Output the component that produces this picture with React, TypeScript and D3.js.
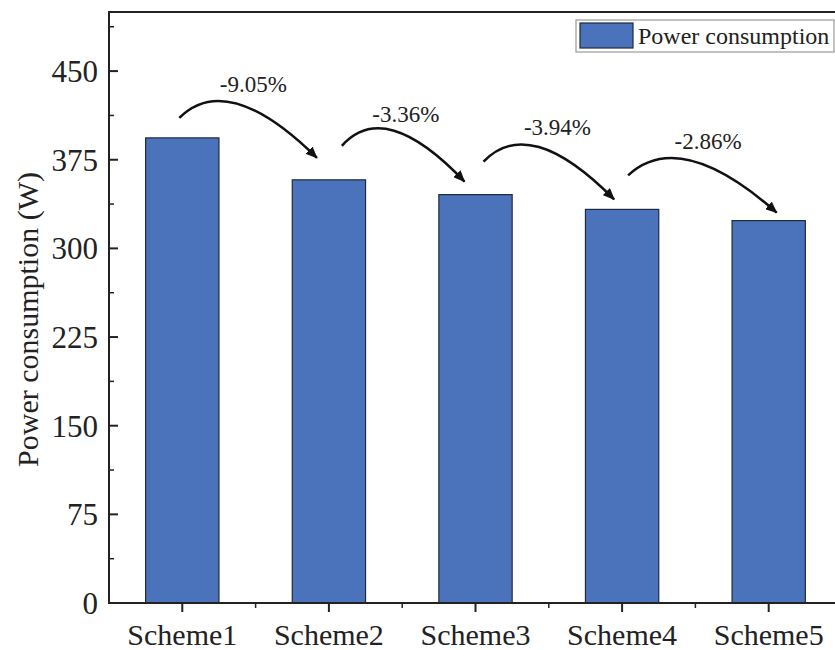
import React, { useEffect, useRef } from 'react';
import * as d3 from 'd3';

const schemes = ['Scheme1', 'Scheme2', 'Scheme3', 'Scheme4', 'Scheme5'];
const power = [393.5, 358, 345.5, 333, 323.5];
const changeLabels = ['-9.05%', '-3.36%', '-3.94%', '-2.86%'];
const yTicks = [0, 75, 150, 225, 300, 375, 450];
const seriesName = 'Power consumption';
// ——————————————————————————————

// hand placed arrow offsets (px) relative to bar tops / centers
const arrowLayout = [
  { sx: -3, sy: -20, ex: -12, ey: -22, lx: 74, ly: -26 },
  { sx: 13, sy: -34, ex: -11, ey: -13, lx: 64, ly: -24 },
  { sx: 8, sy: -33, ex: -8, ey: -10, lx: 74, ly: -27 },
  { sx: 6, sy: -34, ex: 8, ey: -8, lx: 80, ly: -26 },
];

const W = 835;
const H = 650;
const margin = { top: 12, left: 109, bottom: 47 };
const plotRight = 842;

const App = () => {
  const ref = useRef<SVGSVGElement>(null);

  useEffect(() => {
    const svg = d3.select(ref.current);
    svg.selectAll('*').remove();

    const font = '"Liberation Serif", "Times New Roman", serif';
    const x = d3.scaleBand()
      .domain(schemes)
      .range([margin.left, plotRight])
      .paddingInner(0.5)
      .paddingOuter(0.25);
    const y = d3.scaleLinear()
      .domain([0, 500])
      .range([H - margin.bottom, margin.top]);
    const y0 = y(0);
    const step = x.step();

    svg.append('rect').attr('width', W).attr('height', H).attr('fill', '#fff');

    // bars
    svg.append('g')
      .selectAll('rect')
      .data(power)
      .join('rect')
        .attr('x', (_, i) => x(schemes[i])!)
        .attr('y', d => y(d))
        .attr('width', x.bandwidth())
        .attr('height', d => y0 - y(d))
        .attr('fill', '#4a73bb')
        .attr('stroke', '#1f2a3a')
        .attr('stroke-width', 1.2);

    // frame
    svg.append('rect')
      .attr('x', margin.left).attr('y', margin.top)
      .attr('width', plotRight - margin.left)
      .attr('height', y0 - margin.top)
      .attr('fill', 'none')
      .attr('stroke', '#222')
      .attr('stroke-width', 2);

    // y ticks (inward) + minor
    const yAxis = svg.append('g');
    yTicks.forEach(t => {
      yAxis.append('line')
        .attr('x1', margin.left).attr('x2', margin.left + 9)
        .attr('y1', y(t)).attr('y2', y(t))
        .attr('stroke', '#222').attr('stroke-width', 2);
      yAxis.append('text')
        .attr('x', margin.left - 11)
        .attr('y', y(t))
        .attr('dy', '0.35em')
        .attr('text-anchor', 'end')
        .attr('font-family', font)
        .attr('font-size', 31)
        .attr('fill', '#222')
        .text(t);
    });
    d3.range(37.5, 500, 75).forEach(t => {
      yAxis.append('line')
        .attr('x1', margin.left).attr('x2', margin.left + 5)
        .attr('y1', y(t)).attr('y2', y(t))
        .attr('stroke', '#222').attr('stroke-width', 1.5);
    });

    // x ticks (outward) + minor between categories
    const xAxis = svg.append('g');
    schemes.forEach(s => {
      const cx = x(s)! + x.bandwidth() / 2;
      xAxis.append('line')
        .attr('x1', cx).attr('x2', cx)
        .attr('y1', y0).attr('y2', y0 + 9)
        .attr('stroke', '#222').attr('stroke-width', 2);
      xAxis.append('line')
        .attr('x1', cx + step / 2).attr('x2', cx + step / 2)
        .attr('y1', y0).attr('y2', y0 + 5)
        .attr('stroke', '#222').attr('stroke-width', 1.5);
      xAxis.append('text')
        .attr('x', cx)
        .attr('y', y0 + 42)
        .attr('text-anchor', 'middle')
        .attr('font-family', font)
        .attr('font-size', 30)
        .attr('fill', '#222')
        .text(s);
    });

    // axis title
    svg.append('text')
      .attr('transform', `translate(38,${(margin.top + y0) / 2 + 12}) rotate(-90)`)
      .attr('text-anchor', 'middle')
      .attr('font-family', font)
      .attr('font-size', 30)
      .attr('fill', '#222')
      .text('Power consumption (W)');

    // arrows
    svg.append('defs').append('marker')
      .attr('id', 'arrowhead')
      .attr('viewBox', '0 0 12 10')
      .attr('refX', 11).attr('refY', 5)
      .attr('markerWidth', 12).attr('markerHeight', 10)
      .attr('markerUnits', 'userSpaceOnUse')
      .attr('orient', 'auto')
      .append('path')
        .attr('d', 'M0,0 L12,5 L0,10 Z')
        .attr('fill', '#111');

    changeLabels.forEach((lab, i) => {
      const a = arrowLayout[i];
      const c0 = x(schemes[i])! + x.bandwidth() / 2;
      const c1 = x(schemes[i + 1])! + x.bandwidth() / 2;
      const p0 = [c0 + a.sx, y(power[i]) + a.sy];
      const p2 = [c1 + a.ex, y(power[i + 1]) + a.ey];
      const ctrl = [p0[0] + 0.35 * (p2[0] - p0[0]), p0[1] - 48];
      const path = d3.path();
      path.moveTo(p0[0], p0[1]);
      path.quadraticCurveTo(ctrl[0], ctrl[1], p2[0], p2[1]);
      svg.append('path')
        .attr('d', path.toString())
        .attr('fill', 'none')
        .attr('stroke', '#111')
        .attr('stroke-width', 2.5)
        .attr('marker-end', 'url(#arrowhead)');
      svg.append('text')
        .attr('x', p0[0] + a.lx)
        .attr('y', p0[1] + a.ly)
        .attr('text-anchor', 'middle')
        .attr('font-family', font)
        .attr('font-size', 23)
        .attr('fill', '#222')
        .text(lab);
    });

    // legend
    const lg = svg.append('g').attr('transform', 'translate(576,20)');
    lg.append('rect')
      .attr('width', 258).attr('height', 32)
      .attr('fill', '#fff')
      .attr('stroke', '#999').attr('stroke-width', 1.2);
    lg.append('rect')
      .attr('x', 4).attr('y', 3)
      .attr('width', 53).attr('height', 25)
      .attr('fill', '#4a73bb')
      .attr('stroke', '#1f2a3a').attr('stroke-width', 1.2);
    lg.append('text')
      .attr('x', 62).attr('y', 24)
      .attr('font-family', font)
      .attr('font-size', 24)
      .attr('fill', '#222')
      .text(seriesName);
  }, []);

  return (
    <svg
      ref={ref}
      width={W}
      height={H}
      style={{ position: 'absolute', left: 0, top: 0 }}
    />
  );
};

export default App;
